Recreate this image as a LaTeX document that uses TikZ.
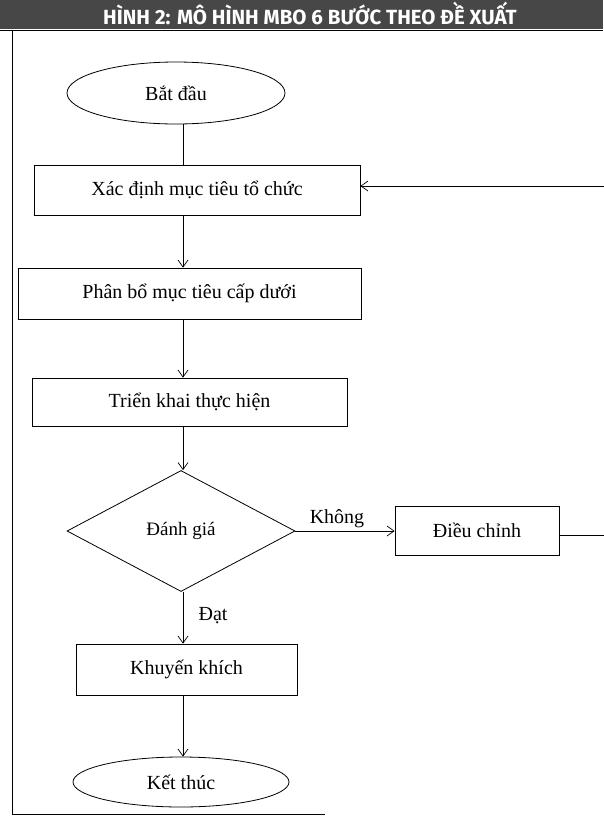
\documentclass[tikz,border=0pt]{standalone}
\usepackage{graphicx}
\usepackage{fontspec}
\setmainfont{Liberation Serif}
\newfontfamily\titlefont{Fira Sans}
\usepackage{tikz}
\usetikzlibrary{shapes,arrows,arrows.meta,positioning}
\tikzset{edge/.style={color=black,line width=0.7pt,>={Straight Barb[length=7pt,width=10pt]}}}
\tikzset{box/.style={draw,rectangle,line width=0.8pt,inner sep=0pt,font=\fontsize{20}{24}\selectfont}}
\tikzset{oval/.style={draw,ellipse,line width=0.8pt,inner sep=0pt,font=\fontsize{20}{24}\selectfont}}

\begin{document}
\begin{tikzpicture}[x=1pt,y=-1pt]%[every node/.style={box}]
                \useasboundingbox (0,0) rectangle (603,817);

                % title bar and frame
                \fill[black!72] (0,0) rectangle (603,29);
                \node[text=white, inner sep=0pt, anchor=base] (title) at (310,24)
                    {\titlefont\bfseries\fontsize{20.5}{20.5}\selectfont HÌNH 2: MÔ HÌNH MBO 6 BƯỚC THEO ĐỀ XUẤT};
                \draw[line width=0.8pt] (0,30) -- (603,30)
                    (12,30) -- (12,814) -- (325,814);

                \node [oval, minimum width=218pt, minimum height=62pt] (start) at (176,93) {Bắt đầu};
                \node [box, minimum width=326pt, minimum height=50pt] (b1) at (197,190) {Xác định mục tiêu tổ chức};
                \node [box, minimum width=343pt, minimum height=51pt] (b2) at (189.5,293.5) {Phân bổ mục tiêu cấp dưới};
                \node [box, minimum width=315pt, minimum height=48pt] (b3) at (189.5,402) {Triển khai thực hiện};
                \node [draw, diamond, line width=0.8pt, inner sep=0pt, minimum width=228pt, minimum height=121pt,
                    font=\fontsize{19}{22}\selectfont] (dg) at (181,531) {Đánh giá};
                \node [box, minimum width=164pt, minimum height=49pt] (dc) at (477,530.5) {Điều chỉnh};
                \node [box, minimum width=221pt, minimum height=51pt] (kk) at (186.5,669.5) {Khuyến khích};
                \node [oval, minimum width=216pt, minimum height=50pt] (end) at (181,782) {Kết thúc};

                \node [font=\fontsize{20}{24}\selectfont] (khong) at (337,519) {Không};
                \node [font=\fontsize{20}{24}\selectfont] (dat) at (213,616) {Đạt};

                \coordinate (ax) at (183,0);
                \coordinate (rt) at (606,300);

                \path[edge] (start.south -| ax) edge (b1.north -| ax);
                \path[edge,->] (b1.south -| ax) edge (b2.north -| ax)
                    (b2.south -| ax) edge (b3.north -| ax)
                    (b3.south -| ax) edge (dg.north -| ax)
                    (dg.south -| ax) edge (kk.north -| ax)
                    (kk.south -| ax) edge (end.north -| ax)
                    (dg.east) edge (dg.east -| dc.west);
                \draw[edge,->] ([yshift=-5pt]dc.east) -| (rt) |- ([yshift=4pt]b1.east);

            \end{tikzpicture}
\end{document}
